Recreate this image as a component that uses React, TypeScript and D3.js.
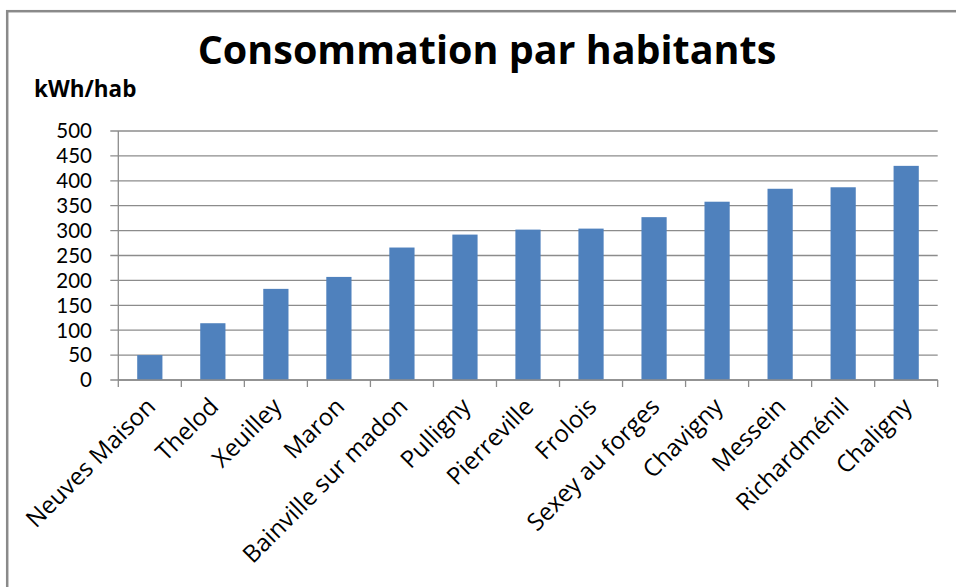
import React from "react";
import * as d3 from "d3";

// Consommation électrique par habitant, par commune (kWh/hab)
const communes = [
  "Neuves Maison",
  "Thelod",
  "Xeuilley",
  "Maron",
  "Bainville sur madon",
  "Pulligny",
  "Pierreville",
  "Frolois",
  "Sexey au forges",
  "Chavigny",
  "Messein",
  "Richardménil",
  "Chaligny",
];
const consommation = [50, 114, 183, 207, 266, 292, 302, 304, 327, 358, 384, 387, 430];
const yTicks = [0, 50, 100, 150, 200, 250, 300, 350, 400, 450, 500];

const titre = "Consommation par habitants";
const unite = "kWh/hab";

const W = 956;
const H = 587;
const M = { left: 118.3, right: 937.7, top: 131, bottom: 380 };
const FONT = "'Open Sans', 'Liberation Sans', sans-serif";
const TICK_FONT = "Lato, 'Open Sans', sans-serif";
const GRID = "#8c8c8c";
const BAR = "#4f81bd";

export default function App() {
  const x = d3
    .scaleBand<string>()
    .domain(communes)
    .range([M.left, M.right])
    .paddingInner(0.6)
    .paddingOuter(0.3);
  const y = d3.scaleLinear().domain([0, 500]).range([M.bottom, M.top]);
  const step = x.step();
  const boundaries = d3.range(communes.length + 1).map((i) => M.left + i * step);

  return (
    <svg
      width={W}
      height={H}
      style={{ position: "absolute", left: 0, top: 0, background: "#fff" }}
      fontFamily={FONT}
    >
      {/* chart frame */}
      <rect x={7.2} y={11.2} width={W + 20} height={H + 20} fill="#fff" stroke="#8a8a8a" strokeWidth={2.5} />

      <text x={487} y={64} textAnchor="middle" fontSize={39.5} fontWeight={700} fill="#000">
        {titre}
      </text>
      <text x={34} y={97} fontSize={22.5} fontWeight={700} fill="#000">
        {unite}
      </text>

      {/* horizontal gridlines + value ticks */}
      {yTicks.map((t) => (
        <g key={t}>
          <line x1={M.left - 8} x2={M.right} y1={y(t)} y2={y(t)} stroke={GRID} strokeWidth={1.3} />
          <text
            x={92}
            y={y(t)}
            dy="0.36em"
            textAnchor="end"
            fontSize={20.5}
            fontFamily={TICK_FONT}
            fill="#000"
          >
            {t}
          </text>
        </g>
      ))}

      {/* value axis */}
      <line x1={M.left} x2={M.left} y1={M.top} y2={M.bottom} stroke={GRID} strokeWidth={1.3} />

      {/* bars */}
      {communes.map((c, i) => (
        <rect
          key={c}
          x={x(c)}
          y={y(consommation[i])}
          width={x.bandwidth()}
          height={y(0) - y(consommation[i])}
          fill={BAR}
        />
      ))}

      {/* category axis */}
      <line x1={M.left} x2={M.right} y1={M.bottom} y2={M.bottom} stroke={GRID} strokeWidth={1.3} />
      {boundaries.map((b, i) => (
        <line key={i} x1={b} x2={b} y1={M.bottom} y2={M.bottom + 7} stroke={GRID} strokeWidth={1.3} />
      ))}
      {communes.map((c) => {
        const cx = (x(c) as number) + x.bandwidth() / 2;
        return (
          <text
            key={c}
            transform={`translate(${cx + 1},${M.bottom + 22}) rotate(-45)`}
            textAnchor="end"
            dy="0.36em"
            fontSize={24}
            fill="#000"
          >
            {c}
          </text>
        );
      })}
    </svg>
  );
}
